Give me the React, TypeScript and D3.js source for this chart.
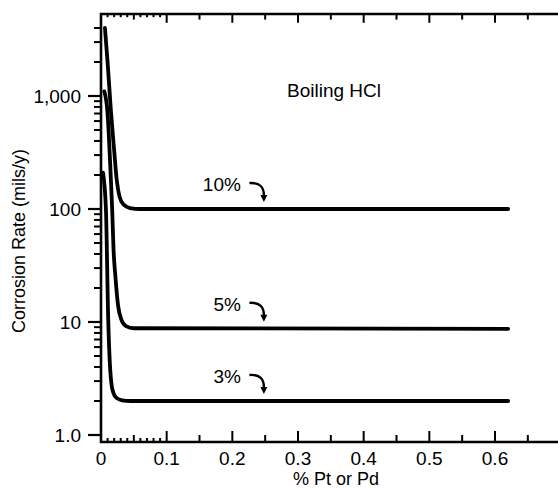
import React, { useEffect, useRef } from "react";
import * as d3 from "d3";

// % Pt or Pd added vs corrosion rate (mils/y), boiling HCl
const curve10X = [0.006, 0.01, 0.015, 0.02, 0.024, 0.028, 0.034, 0.044, 0.06, 0.62];
const curve10Y = [4000, 2000, 750, 330, 180, 130, 110, 102, 100, 100];
const curve5X = [0.005, 0.01, 0.014, 0.017, 0.019, 0.022, 0.026, 0.031, 0.038, 0.05, 0.62];
const curve5Y = [1100, 700, 250, 100, 45, 25, 14, 10.5, 9.2, 8.8, 8.7];
const curve3X = [0.003, 0.0075, 0.011, 0.014, 0.016, 0.019, 0.024, 0.032, 0.045, 0.62];
const curve3Y = [210, 100, 10.5, 3.8, 2.8, 2.35, 2.12, 2.03, 2.0, 2.0];

const seriesLabels = ["10%", "5%", "3%"];
const seriesLevels = [100, 8.7, 2.0];

const xTickValues = [0, 0.1, 0.2, 0.3, 0.4, 0.5, 0.6];
const xTickLabels = ["0", "0.1", "0.2", "0.3", "0.4", "0.5", "0.6"];
const xMidTicks = [0.05, 0.15, 0.25, 0.35, 0.45, 0.55, 0.65];
const xFineTicks = [0.01, 0.02, 0.03, 0.04, 0.06, 0.07, 0.08, 0.09];
const yTickValues = [1, 10, 100, 1000];
const yTickLabels = ["1.0", "10", "100", "1,000"];
const yMinorTicks = [
  2, 3, 4, 5, 6, 7, 8, 9,
  20, 30, 40, 50, 60, 70, 80, 90,
  200, 300, 400, 500, 600, 700, 800, 900,
  2000, 3000, 4000,
];

const FONT = "'Liberation Sans', Arial, Helvetica, sans-serif";

const App = () => {
  const ref = useRef<SVGSVGElement>(null);

  useEffect(() => {
    const width = 558,
      height = 490;
    const frame = { left: 101, top: 14, bottom: 442, right: 560 };

    const svg = d3.select(ref.current);
    svg.selectAll("*").remove();
    svg.attr("width", width).attr("height", height);

    const x = d3.scaleLinear().domain([0, 0.6]).range([101, 495]);
    const y = d3.scaleLog().domain([1, 1000]).range([435, 96]);

    const g = svg.append("g");

    // frame: left axis, bottom axis, top border
    g.append("path")
      .attr("d", `M${frame.right},${frame.top}H${frame.left}V${frame.bottom}H${frame.right}`)
      .attr("fill", "none")
      .attr("stroke", "#000")
      .attr("stroke-width", 2.6);

    // y ticks (outside, to the left)
    g.selectAll(".ymaj")
      .data(yTickValues)
      .enter()
      .append("line")
      .attr("x1", frame.left - 13)
      .attr("x2", frame.left)
      .attr("y1", (d) => y(d))
      .attr("y2", (d) => y(d))
      .attr("stroke", "#000")
      .attr("stroke-width", 2.2);
    g.selectAll(".ymin")
      .data(yMinorTicks)
      .enter()
      .append("line")
      .attr("x1", frame.left - 7)
      .attr("x2", frame.left)
      .attr("y1", (d) => y(d))
      .attr("y2", (d) => y(d))
      .attr("stroke", "#000")
      .attr("stroke-width", 2);
    g.selectAll(".ylab")
      .data(yTickValues)
      .enter()
      .append("text")
      .attr("x", 81)
      .attr("y", (d) => y(d))
      .attr("dy", "0.36em")
      .attr("text-anchor", "end")
      .style("font-family", FONT)
      .style("font-size", "19px")
      .text((d, i) => yTickLabels[i]);

    // x ticks, bottom (pointing up) and top (pointing down)
    const tickSets = [
      { vals: xTickValues.slice(1), len: 11 },
      { vals: xMidTicks, len: 7 },
      { vals: xFineTicks, len: 4 },
    ];
    tickSets.forEach((ts) => {
      g.selectAll(null)
        .data(ts.vals)
        .enter()
        .append("line")
        .attr("x1", (d) => x(d))
        .attr("x2", (d) => x(d))
        .attr("y1", frame.bottom)
        .attr("y2", frame.bottom - ts.len)
        .attr("stroke", "#000")
        .attr("stroke-width", 2);
      g.selectAll(null)
        .data(ts.vals)
        .enter()
        .append("line")
        .attr("x1", (d) => x(d))
        .attr("x2", (d) => x(d))
        .attr("y1", frame.top)
        .attr("y2", frame.top + ts.len * 0.8)
        .attr("stroke", "#000")
        .attr("stroke-width", 2);
    });
    g.selectAll(".xlab")
      .data(xTickValues)
      .enter()
      .append("text")
      .attr("x", (d) => x(d))
      .attr("y", 465)
      .attr("text-anchor", "middle")
      .style("font-family", FONT)
      .style("font-size", "19px")
      .text((d, i) => xTickLabels[i]);

    // axis titles
    g.append("text")
      .attr("x", 336)
      .attr("y", 485)
      .attr("text-anchor", "middle")
      .style("font-family", FONT)
      .style("font-size", "18px")
      .text("% Pt or Pd");
    g.append("text")
      .attr("transform", "translate(25,241) rotate(-90)")
      .attr("text-anchor", "middle")
      .style("font-family", FONT)
      .style("font-size", "18px")
      .text("Corrosion Rate (mils/y)");

    g.append("text")
      .attr("x", 334)
      .attr("y", 97)
      .attr("text-anchor", "middle")
      .style("font-family", FONT)
      .style("font-size", "19px")
      .text("Boiling HCl");

    // curves
    const line = d3
      .line<[number, number]>()
      .x((d) => x(d[0]))
      .y((d) => y(d[1]))
      .curve(d3.curveMonotoneX);
    const series = [
      d3.zip(curve10X, curve10Y),
      d3.zip(curve5X, curve5Y),
      d3.zip(curve3X, curve3Y),
    ];
    series.forEach((s) => {
      g.append("path")
        .attr("d", line(s as [number, number][]))
        .attr("fill", "none")
        .attr("stroke", "#000")
        .attr("stroke-width", 3.8)
        .attr("stroke-linecap", "round")
        .attr("stroke-linejoin", "round");
    });

    // labels with curved arrows
    seriesLabels.forEach((lab, i) => {
      const ly = y(seriesLevels[i]);
      const base = ly - 18;
      g.append("text")
        .attr("x", x(0.213))
        .attr("y", base)
        .attr("text-anchor", "end")
        .style("font-family", FONT)
        .style("font-size", "19px")
        .text(lab);
      const sx = x(0.226),
        sy = base - 8;
      const ex = x(0.248),
        ey = ly - 7;
      g.append("path")
        .attr("d", `M${sx},${sy}Q${ex + 1},${sy - 1} ${ex},${ey - 5}`)
        .attr("fill", "none")
        .attr("stroke", "#000")
        .attr("stroke-width", 2.4);
      g.append("path")
        .attr("d", `M${ex - 3.5},${ey - 7}L${ex + 3.5},${ey - 7}L${ex},${ey}Z`)
        .attr("fill", "#000");
    });
  }, []);

  return (
    <svg
      ref={ref}
      style={{ position: "absolute", left: 0, top: 0, background: "#fff" }}
    />
  );
};

export default App;
